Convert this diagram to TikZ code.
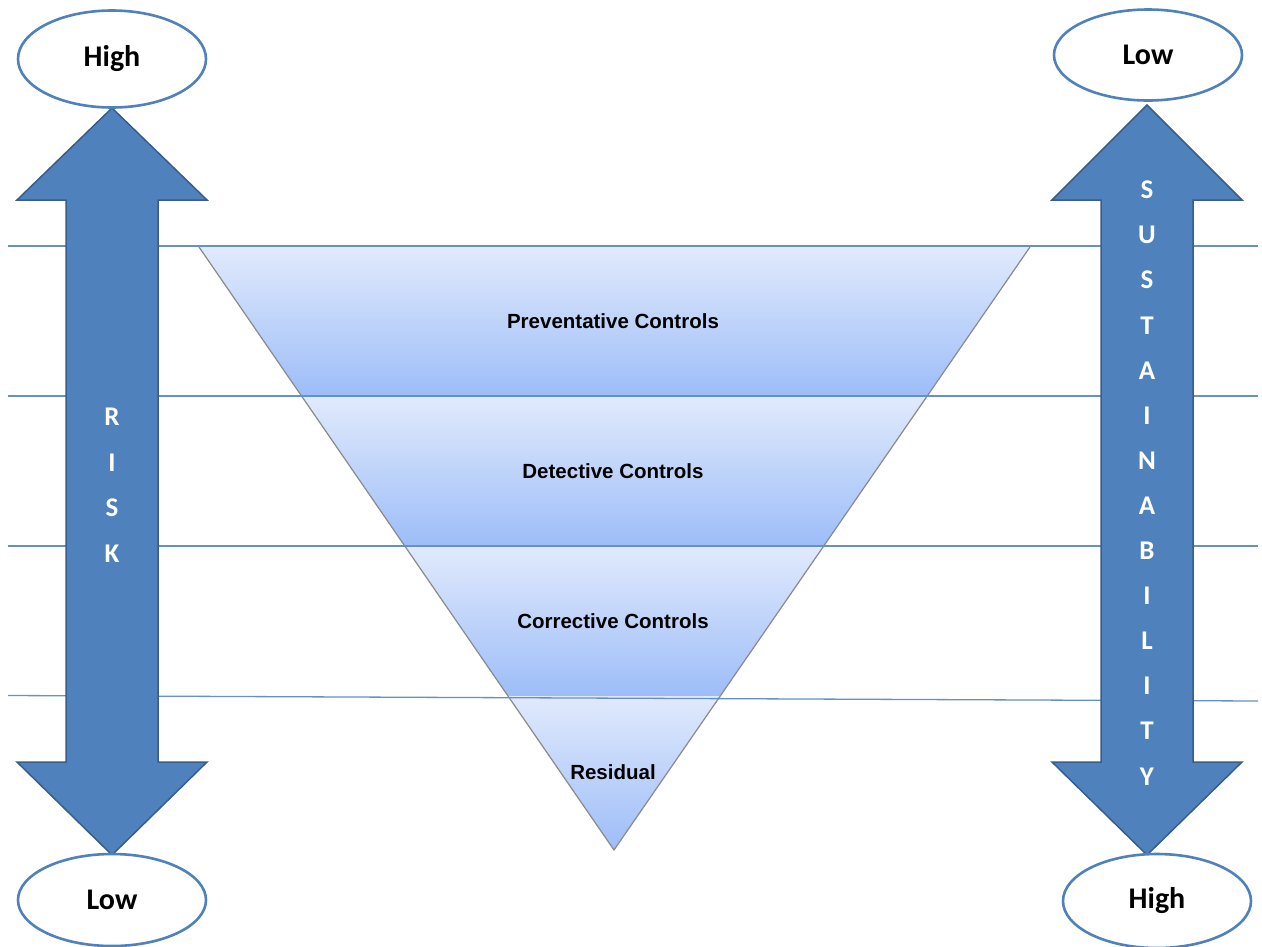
\documentclass[tikz,border=0pt]{standalone}
\usepackage{fontspec}
\setmainfont{Liberation Sans}
\newfontfamily\calib{Carlito}
\usetikzlibrary{shapes.geometric,calc}
\definecolor{arrowblue}{HTML}{4F81BD}
\definecolor{arrowedge}{HTML}{385D8A}
\definecolor{bandtop}{HTML}{E1EAFC}
\definecolor{bandbot}{HTML}{9DBDF8}
\definecolor{hlinec}{HTML}{6690C8}
\definecolor{trigrey}{HTML}{8A8A8A}
\begin{document}
\begin{tikzpicture}[x=1pt,y=-1pt,
  band/.style={top color=bandtop,bottom color=bandbot,draw=none},
  triedge/.style={draw=trigrey,line width=1.2pt},
  hl/.style={draw=hlinec,line width=1.3pt},
  bigarrow/.style={fill=arrowblue,draw=arrowedge,line width=1.5pt,line join=miter},
  oval/.style={ellipse,draw=arrowblue,line width=2.6pt,fill=white,minimum width=188pt,inner sep=0pt,font=\calib\bfseries\fontsize{30}{36}\selectfont},
  letter/.style={text=white,font=\calib\bfseries\fontsize{27}{32}\selectfont,inner sep=0pt},
  ctrl/.style={font=\bfseries\fontsize{20.5}{24}\selectfont,inner sep=0pt}]
\useasboundingbox (0,0) rectangle (1262,946);
\fill[white] (0,0) rectangle (1262,946);
% triangle
\coordinate (TL) at (199,247);
\coordinate (TR) at (1030,247);
\coordinate (A) at (614,850);
\coordinate (L1) at ($(TL)!0.2471!(A)$);
\coordinate (R1) at ($(TR)!0.2471!(A)$);
\coordinate (L2) at ($(TL)!0.4959!(A)$);
\coordinate (R2) at ($(TR)!0.4959!(A)$);
\coordinate (L3) at ($(TL)!0.7446!(A)$);
\coordinate (R3) at ($(TR)!0.7446!(A)$);
\shade[band] (TL) -- (TR) -- (R1) -- (L1) -- cycle;
\shade[band] (L1) -- (R1) -- (R2) -- (L2) -- cycle;
\shade[band] (L2) -- (R2) -- (R3) -- (L3) -- cycle;
\shade[band] (L3) -- (R3) -- (A) -- cycle;
\draw[triedge] (TL) -- (A) -- (TR);
% horizontal lines
\coordinate (h1a) at (8,246);   \coordinate (h1b) at (1258,246);
\coordinate (h2a) at (8,396);   \coordinate (h2b) at (1258,396);
\coordinate (h3a) at (8,546);   \coordinate (h3b) at (1258,546);
\coordinate (h4a) at (8,695.5); \coordinate (h4b) at (1258,701);
\draw[hl] (h1a) -- (h1b);
\draw[hl] (h2a) -- (h2b);
\draw[hl] (h3a) -- (h3b);
\draw[hl] (h4a) -- (h4b);
% labels
\node[ctrl] (p) at (613,321) {Preventative Controls};
\node[ctrl] (d) at (613,471) {Detective Controls};
\node[ctrl] (c) at (613,621) {Corrective Controls};
\node[ctrl] (r) at (613,772) {Residual};
% arrows
\draw[bigarrow] (112,108) -- (207,200) -- (158,200) -- (158,762) -- (207,762) -- (112,855) -- (17,762) -- (66,762) -- (66,200) -- (17,200) -- cycle;
\draw[bigarrow] (1147,105) -- (1242,200) -- (1193,200) -- (1193,762) -- (1242,762) -- (1147,855) -- (1052,762) -- (1101,762) -- (1101,200) -- (1052,200) -- cycle;
% ellipses
\node[oval,minimum height=97pt] (hiL) at (112,59) {High};
\node[oval,minimum height=91pt] (loR) at (1148,55) {Low};
\node[oval,minimum height=92pt] (loL) at (112,900) {Low};
\node[oval,minimum height=94pt] (hiR) at (1157,901) {High};
% letters
\foreach \ch [count=\i from 0] in {R,I,S,K}
  \node[letter] (risk\i) at (112,417+45.6*\i) {\ch};
\foreach \ch [count=\i from 0] in {S,U,S,T,A,I,N,A,B,I,L,I,T,Y}
  \node[letter] (sus\i) at (1147,190+45.1*\i) {\ch};
\end{tikzpicture}
\end{document}
